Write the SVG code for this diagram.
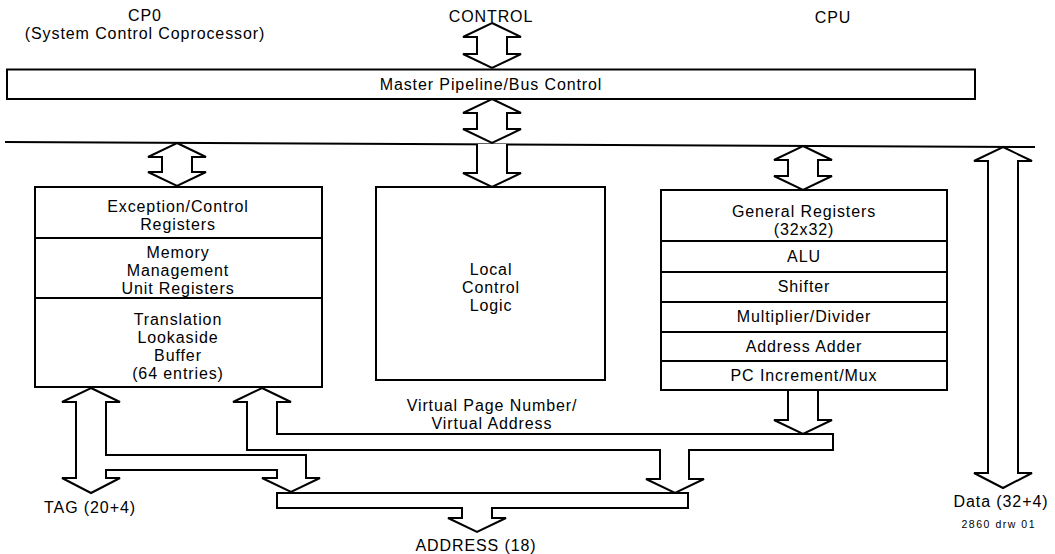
<svg xmlns="http://www.w3.org/2000/svg" width="1055" height="554" viewBox="0 0 1055 554">
<style>
.b{fill:#fff;stroke:#000;stroke-width:2;stroke-linejoin:miter}
.l{fill:none;stroke:#000;stroke-width:2}
text{font-family:"Liberation Sans",Arial,sans-serif;font-size:16px;letter-spacing:0.9px;fill:#000;text-anchor:middle}
.s{font-size:10.5px;letter-spacing:0}
</style>
<rect width="1055" height="554" fill="#fff"/>
<g id="labels">
<text x="145" y="21">CP0</text>
<text x="145" y="39">(System Control Coprocessor)</text>
<text x="491" y="22">CONTROL</text>
<text x="833" y="23">CPU</text>
</g>
<g id="connectors">
<line class="l" x1="5" y1="142" x2="1035" y2="147"/>
<polygon class="b" points="492,23 521,37 507,37 507,54 521,54 492,68 463,54 477,54 477,37 463,37"/>
<polygon class="b" points="492,99 521,113 507,113 507,129 521,129 492,143 463,129 477,129 477,113 463,113"/>
<polyline class="b" points="477,144 477,173 463,173 492,187 521,173 507,173 507,144"/>
<polygon class="b" points="177,143 206,157 192,157 192,172 206,172 177,186 148,172 162,172 162,157 148,157"/>
<polygon class="b" points="803,146 832,160 818,160 818,176 832,176 803,190 774,176 788,176 788,160 774,160"/>
<polygon class="b" points="1003,147 1032,161 1018,161 1018,473 1032,473 1003,488 974,473 988,473 988,161 974,161"/>
<polygon class="b" points="277,493 688,493 688,508 492,508 492,518 506,518 477,532 448,518 462,518 462,508 277,508"/>
<polygon class="b" points="262,388 291,402 277,402 277,434 833,434 833,450 689,450 689,479 704,479 675,493 646,479 660,479 660,450 247,450 247,402 233,402"/>
<polyline class="b" points="788,390 788,420 774,420 803,434 832,420 818,420 818,390"/>
<polygon class="b" points="91,388 120,402 106,402 106,455 306,455 306,478 320,478 291,492 262,478 277,478 277,470 106,470 106,478 120,478 91,493 62,478 76,478 76,402 62,402"/>
</g>
<g id="master">
<rect class="b" x="7" y="69.5" width="968" height="29.5"/>
<text x="491" y="90">Master Pipeline/Bus Control</text>
</g>
<g id="cp0">
<rect class="b" x="35" y="187" width="287" height="200"/>
<line class="l" x1="35" y1="238" x2="322" y2="238"/>
<line class="l" x1="35" y1="298" x2="322" y2="298"/>
<text x="178" y="212">Exception/Control</text>
<text x="178" y="230">Registers</text>
<text x="178" y="258">Memory</text>
<text x="178" y="276">Management</text>
<text x="178" y="294">Unit Registers</text>
<text x="178" y="325">Translation</text>
<text x="178" y="343">Lookaside</text>
<text x="178" y="361">Buffer</text>
<text x="178" y="379">(64 entries)</text>
</g>
<g id="local">
<rect class="b" x="376" y="187" width="229" height="193"/>
<text x="491" y="275">Local</text>
<text x="491" y="293">Control</text>
<text x="491" y="311">Logic</text>
</g>
<g id="cpu">
<rect class="b" x="661" y="190" width="286" height="200"/>
<line class="l" x1="661" y1="241" x2="947" y2="241"/>
<line class="l" x1="661" y1="272" x2="947" y2="272"/>
<line class="l" x1="661" y1="302" x2="947" y2="302"/>
<line class="l" x1="661" y1="332" x2="947" y2="332"/>
<line class="l" x1="661" y1="361" x2="947" y2="361"/>
<text x="804" y="217">General Registers</text>
<text x="804" y="235">(32x32)</text>
<text x="804" y="262">ALU</text>
<text x="804" y="292">Shifter</text>
<text x="804" y="322">Multiplier/Divider</text>
<text x="804" y="352">Address Adder</text>
<text x="804" y="381">PC Increment/Mux</text>
</g>
<g id="buslabels">
<text x="492" y="411">Virtual Page Number/</text>
<text x="492" y="429">Virtual Address</text>
<text x="90" y="513">TAG (20+4)</text>
<text x="1001" y="507">Data (32+4)</text>
<text x="476" y="551">ADDRESS (18)</text>
<text class="s" x="998" y="528" textLength="73" lengthAdjust="spacing">2860 drw 01</text>
</g>
</svg>
